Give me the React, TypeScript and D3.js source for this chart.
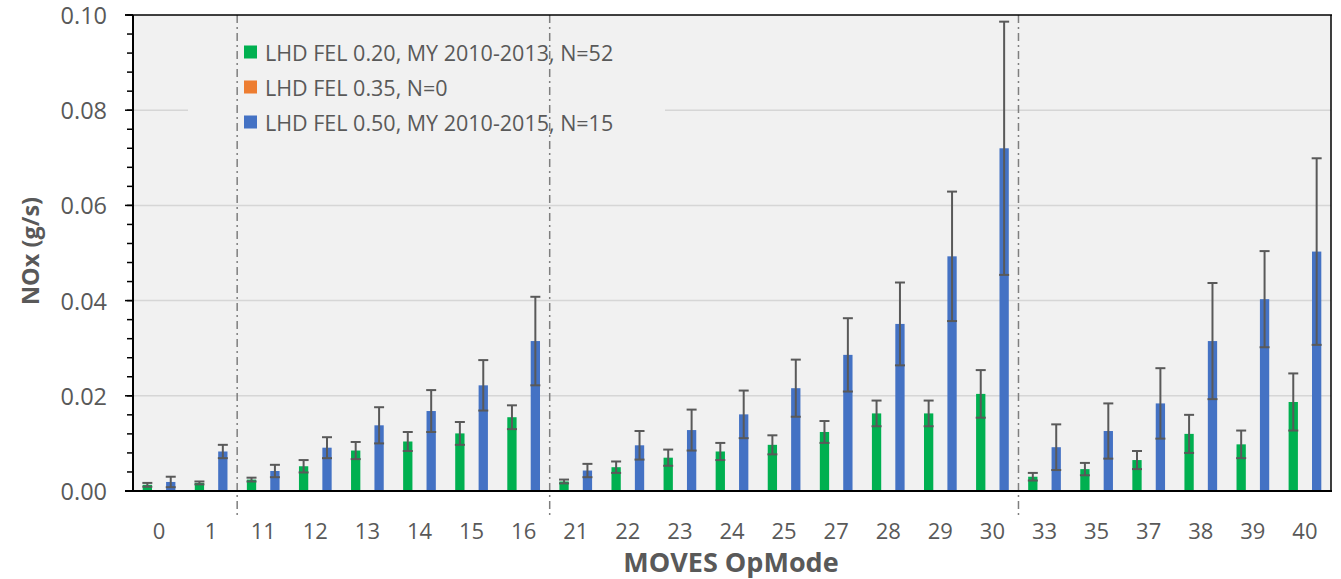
import React from "react";
import * as d3 from "d3";

const categories = ["0","1","11","12","13","14","15","16","21","22","23","24","25","27","28","29","30","33","35","37","38","39","40"];
const fel020 = [0.0013,0.0017,0.0024,0.0052,0.0085,0.0104,0.0121,0.0155,0.0020,0.0050,0.0070,0.0083,0.0097,0.0124,0.0163,0.0163,0.0204,0.0030,0.0046,0.0065,0.0120,0.0098,0.0187];
const fel020Err = [0.0004,0.0003,0.0004,0.0013,0.0018,0.0020,0.0024,0.0025,0.0004,0.0012,0.0017,0.0018,0.0020,0.0023,0.0027,0.0027,0.0050,0.0008,0.0013,0.0019,0.0040,0.0029,0.0060];
const fel035: number[] = []; // N=0, no data
const fel050 = [0.0019,0.0083,0.0042,0.0091,0.0138,0.0168,0.0222,0.0315,0.0043,0.0096,0.0128,0.0161,0.0216,0.0286,0.0351,0.0493,0.0720,0.0092,0.0126,0.0184,0.0315,0.0403,0.0503];
const fel050Err = [0.0011,0.0014,0.0013,0.0022,0.0038,0.0044,0.0053,0.0093,0.0014,0.0030,0.0043,0.0050,0.0060,0.0077,0.0087,0.0136,0.0266,0.0048,0.0058,0.0074,0.0122,0.0101,0.0196];
const seriesNames = ["LHD FEL 0.20, MY 2010-2013, N=52", "LHD FEL 0.35, N=0", "LHD FEL 0.50, MY 2010-2015, N=15"];
const seriesColors = ["#00B050", "#ED7D31", "#4472C4"];
const separatorAfter = ["1", "16", "30"];
const yTicks = [0, 0.02, 0.04, 0.06, 0.08, 0.1];

const W = 1341, H = 579;
const L = 133, R = 1331, T = 15, B = 491;
const FONT = "'Open Sans', 'Noto Sans', sans-serif";
const TXT = "#595959";

export default function App() {
  const x = d3.scaleBand<string>().domain(categories).range([L, R]).padding(0);
  const y = d3.scaleLinear().domain([0, 0.1]).range([B, T]);
  const x1 = d3.scalePoint<number>().domain([0, 1, 2]).range([-11.7, 11.7]);
  const barW = 9.3;
  const capW = 10;
  const minor = d3.range(0, 0.1001, 0.004);

  const series = [
    { vals: fel020, errs: fel020Err, idx: 0 },
    { vals: fel035, errs: [] as number[], idx: 1 },
    { vals: fel050, errs: fel050Err, idx: 2 },
  ];

  const cx = (c: string) => (x(c) as number) + x.bandwidth() / 2;

  return (
    <svg width={W} height={H} style={{ position: "absolute", left: 0, top: 0, background: "#fff" }} fontFamily={FONT}>
      <rect x={L} y={T} width={R - L} height={B - T} fill="#f1f1f1" />
      {yTicks.filter((t) => t > 0 && t < 0.1).map((t) => (
        <line key={"g" + t} x1={L} x2={R} y1={y(t)} y2={y(t)} stroke="#d6d6d6" strokeWidth={1.5} />
      ))}
      {/* legend box */}
      <rect x={188} y={32} width={477} height={108} fill="#f1f1f1" />
      {seriesNames.map((n, i) => (
        <g key={n}>
          <rect x={244} y={52 + i * 35 - 6.5} width={13} height={13} fill={seriesColors[i]} />
          <text x={265} y={52 + i * 35} dominantBaseline="central" fontSize={21.5} fill={TXT}>{n}</text>
        </g>
      ))}
      {/* bars */}
      {series.map((s) =>
        s.vals.map((v, i) => {
          const c = categories[i];
          const xc = cx(c) + (x1(s.idx) as number);
          return (
            <rect key={s.idx + "-" + c} x={xc - barW / 2} y={y(v)} width={barW} height={B - y(v)} fill={seriesColors[s.idx]} />
          );
        })
      )}
      {/* error bars */}
      {series.map((s) =>
        s.errs.map((e, i) => {
          const c = categories[i];
          const v = s.vals[i];
          const xc = cx(c) + (x1(s.idx) as number);
          const hi = y(v + e), lo = y(Math.max(0, v - e));
          return (
            <g key={"e" + s.idx + "-" + c} stroke="#595959" strokeWidth={2}>
              <line x1={xc} x2={xc} y1={hi} y2={lo} />
              <line x1={xc - capW / 2} x2={xc + capW / 2} y1={hi} y2={hi} />
              <line x1={xc - capW / 2} x2={xc + capW / 2} y1={lo} y2={lo} />
            </g>
          );
        })
      )}
      {/* separators */}
      {separatorAfter.map((c) => {
        const sx = (x(c) as number) + x.bandwidth();
        return (
          <line key={"s" + c} x1={sx} x2={sx} y1={T} y2={518} stroke="#7f7f7f" strokeWidth={1.5} strokeDasharray="8,4,2,4" />
        );
      })}
      {/* frame */}
      <line x1={L} x2={L} y1={T} y2={B} stroke="#000" strokeWidth={2} />
      <line x1={R} x2={R} y1={T} y2={B} stroke="#000" strokeWidth={1.5} />
      <line x1={125} x2={R + 1} y1={T} y2={T} stroke="#000" strokeWidth={1.5} />
      <line x1={125} x2={R + 1} y1={B} y2={B} stroke="#000" strokeWidth={2} />
      {minor.map((t) => (
        <line key={"m" + t} x1={L - 6} x2={L} y1={y(t)} y2={y(t)} stroke="#000" strokeWidth={1.5} />
      ))}
      {yTicks.map((t) => (
        <g key={"t" + t}>
          <line x1={L - 8} x2={L} y1={y(t)} y2={y(t)} stroke="#000" strokeWidth={1.5} />
          <text x={107} y={y(t)} textAnchor="end" dominantBaseline="central" fontSize={23.5} fill={TXT}>
            {d3.format(".2f")(t)}
          </text>
        </g>
      ))}
      {categories.map((c) => (
        <text key={"x" + c} x={cx(c)} y={530} textAnchor="middle" dominantBaseline="central" fontSize={22} fill={TXT}>
          {c}
        </text>
      ))}
      <text transform={`translate(30,251) rotate(-90)`} textAnchor="middle" dominantBaseline="central" fontSize={23.5} fontWeight="bold" fill={TXT}>
        NOx (g/s)
      </text>
      <text x={731} y={561} textAnchor="middle" dominantBaseline="central" fontSize={27} fontWeight="bold" fill={TXT}>
        MOVES OpMode
      </text>
    </svg>
  );
}
